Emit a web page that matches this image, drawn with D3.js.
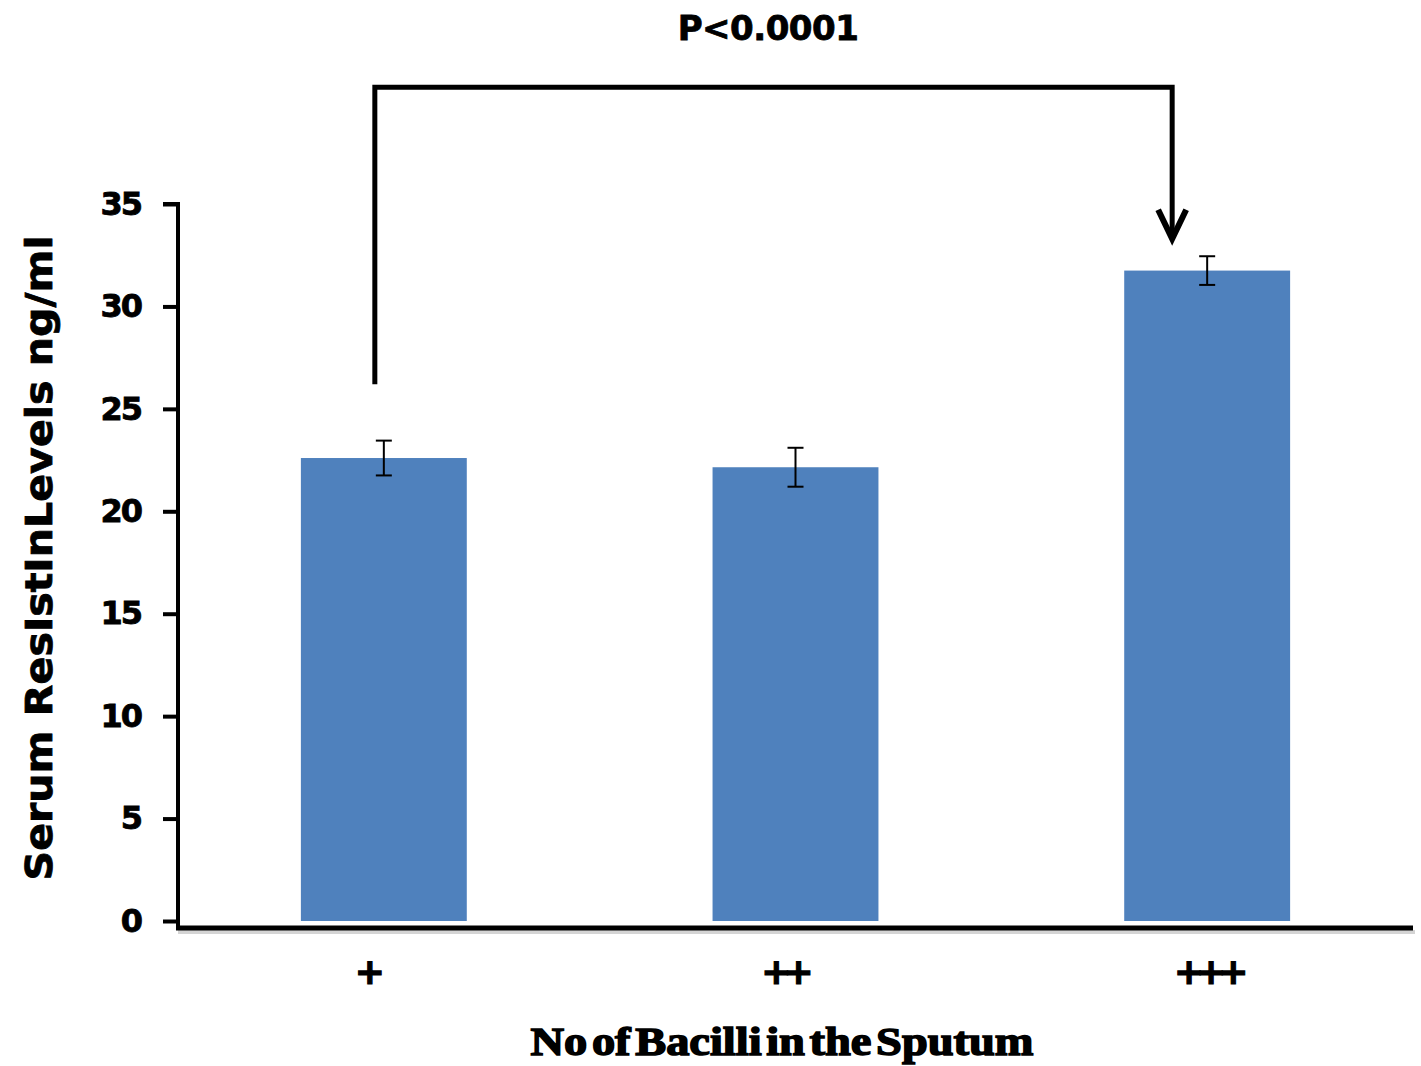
<!DOCTYPE html>
<html>
<head>
<meta charset="utf-8">
<script src="https://cdn.jsdelivr.net/npm/d3@7"></script>
<style>
  html, body { margin: 0; padding: 0; background: #fff; }
  svg { display: block; }
</style>
</head>
<body>
<svg id="chart" width="1421" height="1066"></svg>
<script>
const categories = ["+", "++", "+++"];
const means = [22.6, 22.15, 31.75];
const errors = [0.85, 0.95, 0.7];
const yTicks = [0, 5, 10, 15, 20, 25, 30, 35];
const titleText = "P<0.0001";
const yTitle = "Serum ResIstInLevels ng/ml";
const xTitle = "No of Bacilli in the Sputum";

const svg = d3.select("#chart");
const left = 178, right = 1413, zeroY = 921, topY = 204;

const x = d3.scaleBand().domain(categories).range([left, right]).paddingInner(0.597).paddingOuter(0.2985);
const y = d3.scaleLinear().domain([0, 35]).range([zeroY, topY]);

const barColor = "#4F81BD";

// bars
svg.append("g").selectAll("rect").data(categories).join("rect")
  .attr("x", d => x(d))
  .attr("y", (d, i) => y(means[i]))
  .attr("width", x.bandwidth())
  .attr("height", (d, i) => y(0) - y(means[i]))
  .attr("fill", barColor);

// error bars
const eg = svg.append("g").attr("stroke", "#000").attr("stroke-width", 2);
categories.forEach((c, i) => {
  const cx = x(c) + x.bandwidth() / 2;
  const y1 = y(means[i] + errors[i]), y2 = y(means[i] - errors[i]);
  eg.append("line").attr("x1", cx).attr("x2", cx).attr("y1", y1).attr("y2", y2);
  eg.append("line").attr("x1", cx - 8).attr("x2", cx + 8).attr("y1", y1).attr("y2", y1);
  eg.append("line").attr("x1", cx - 8).attr("x2", cx + 8).attr("y1", y2).attr("y2", y2);
});

// y axis
const yAxis = d3.axisLeft(y).tickValues(yTicks).tickSize(15).tickPadding(22);
const yg = svg.append("g").attr("transform", `translate(${left},0)`).call(yAxis);
yg.select(".domain").attr("stroke", "#000").attr("stroke-width", 4).attr("d", `M-15,${topY}H0V${zeroY + 9}`);
yg.selectAll(".tick line").attr("stroke", "#000").attr("stroke-width", 4);
yg.selectAll(".tick text")
  .attr("font-family", "DejaVu Sans, Verdana, sans-serif")
  .attr("font-weight", "bold")
  .attr("font-size", 32)
  .attr("letter-spacing", -2)
  .attr("stroke", "#000").attr("stroke-width", 0.8)
  .attr("fill", "#000");

// x axis line
svg.append("line")
  .attr("x1", left - 2).attr("x2", right).attr("y1", zeroY + 8).attr("y2", zeroY + 8)
  .attr("stroke", "#b8b8b8").attr("stroke-width", 4).attr("transform", "translate(2,3)").attr("opacity", 0.6);
const xAxis = d3.axisBottom(x).tickSize(0).tickPadding(30);
const xg = svg.append("g").attr("transform", `translate(0,${zeroY + 7})`).call(xAxis);
xg.select(".domain").attr("stroke", "#000").attr("stroke-width", 5).attr("d", `M${left - 2},0H${right}`);
xg.selectAll(".tick text")
  .attr("font-family", "DejaVu Sans, Verdana, sans-serif")
  .attr("font-weight", "bold")
  .attr("font-size", 36)
  .attr("letter-spacing", -8)
  .attr("stroke", "#000").attr("stroke-width", 1.2)
  .attr("fill", "#000")
  .attr("dx", (d, i) => i === 0 ? -18 : (i === 1 ? -12 : 0));

// y title
svg.append("text")
  .attr("transform", `translate(52,${558}) rotate(-90)`)
  .attr("text-anchor", "middle")
  .attr("font-family", "DejaVu Sans, Verdana, sans-serif")
  .attr("font-weight", "bold")
  .attr("font-size", 38)
  .attr("textLength", 645)
  .attr("lengthAdjust", "spacingAndGlyphs")
  .attr("stroke", "#000").attr("stroke-width", 0.8)
  .text(yTitle);

// x title
svg.append("text")
  .attr("x", 782).attr("y", 1055)
  .attr("text-anchor", "middle")
  .attr("font-family", "Liberation Serif, Times New Roman, serif")
  .attr("font-weight", "bold")
  .attr("font-size", 40)
  .attr("word-spacing", -6)
  .attr("textLength", 503)
  .attr("lengthAdjust", "spacingAndGlyphs")
  .attr("stroke", "#000").attr("stroke-width", 1.5)
  .text(xTitle);

// title
svg.append("text")
  .attr("x", 768).attr("y", 40)
  .attr("text-anchor", "middle")
  .attr("font-family", "DejaVu Sans, Verdana, sans-serif")
  .attr("font-weight", "bold")
  .attr("font-size", 34)
  .attr("letter-spacing", -0.5)
  .attr("stroke", "#000").attr("stroke-width", 0.8)
  .text(titleText);

// bracket with arrow
const bx1 = x(categories[0]) + x.bandwidth() / 2 - 9;
const bx2 = x(categories[2]) + x.bandwidth() / 2 - 35;
const by = y(40.7);
svg.append("path")
  .attr("d", `M${bx1},${y(26.2)}V${by}H${bx2}V${y(33.5)}`)
  .attr("fill", "none").attr("stroke", "#000").attr("stroke-width", 5);
svg.append("path")
  .attr("d", `M${bx2 - 14},${y(33.5) - 25} L${bx2},${y(33.5) + 4} L${bx2 + 14},${y(33.5) - 25}`)
  .attr("fill", "none").attr("stroke", "#000").attr("stroke-width", 6).attr("stroke-linejoin", "miter");
</script>
</body>
</html>
